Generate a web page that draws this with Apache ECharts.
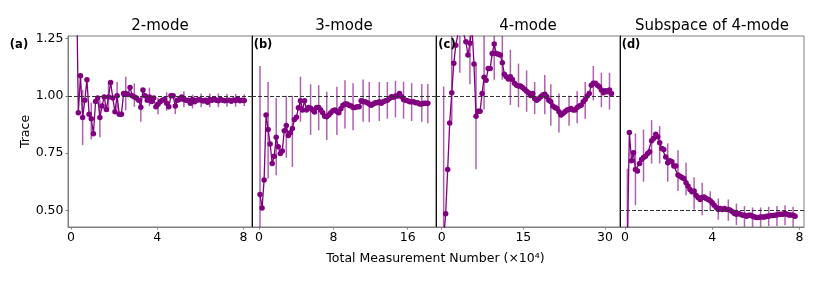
<!DOCTYPE html>
<html>
<head>
<meta charset="utf-8">
<script src="https://cdn.jsdelivr.net/npm/echarts@6/dist/echarts.min.js"></script>
<style>
html,body{margin:0;padding:0;background:#fff;}
#chart{width:824px;height:286px;}
</style>
</head>
<body>
<div id="chart"></div>
<script>
// ---------------- data ----------------
const TITLES = ['2-mode', '3-mode', '4-mode', 'Subspace of 4-mode'];
const PANEL_TAGS = ['(a)', '(b)', '(c)', '(d)'];
const Y_LABEL = 'Trace';
const X_LABEL = 'Total Measurement Number (\u00d710\u2074)';
const Y_TICKS = [0.5, 0.75, 1.0, 1.25];
const X_TICKS_A = [0, 4, 8];
const X_TICKS_B = [0, 8, 16];
const X_TICKS_C = [0, 15, 30];
const X_TICKS_D = [0, 4, 8];
const REF_LINES = [1.0, 1.0, 1.0, 0.5];

// (a) 2-mode
const A_X = [0.24,0.34,0.44,0.54,0.64,0.74,0.84,0.94,1.04,1.14,1.24,1.34,1.44,1.54,1.64,1.74,1.84,1.94,2.04,2.14,2.24,2.34,2.44,2.54,2.64,2.74,2.84,2.94,3.04,3.14,3.24,3.34,3.44,3.54,3.64,3.74,3.84,3.94,4.04,4.14,4.24,4.34,4.44,4.54,4.64,4.74,4.84,4.94,5.04,5.14,5.24,5.34,5.44,5.54,5.64,5.74,5.84,5.94,6.04,6.14,6.24,6.34,6.44,6.54,6.64,6.74,6.84,6.94,7.04,7.14,7.24,7.34,7.44,7.54,7.64,7.74,7.84,7.94,8.04];
const A_Y = [1.60,0.926,1.087,0.905,0.98,1.07,0.92,0.90,0.835,0.975,0.99,0.905,0.955,0.995,0.94,0.995,1.058,0.99,0.93,1.0,0.92,0.92,1.01,1.01,1.005,1.036,1.0,0.995,0.99,0.98,0.95,1.025,1.0,0.98,0.995,0.975,0.99,0.952,0.963,0.974,0.98,0.985,0.967,0.952,1.0,1.0,0.955,0.98,0.985,0.995,0.984,0.98,0.98,0.967,0.984,0.974,0.98,0.984,0.98,0.977,0.98,0.972,0.984,0.98,0.987,0.98,0.978,0.984,0.98,0.978,0.98,0.98,0.976,0.982,0.979,0.985,0.978,0.98,0.979];
const A_BAR_IDX = [3,7,11,15,19,23,27,30,34,38,42,46,50,54,58,62,66,70,74,78];
const A_BAR_LO = [0.785,0.81,0.82,0.93,0.94,0.937,0.952,0.887,0.955,0.92,0.935,0.92,0.95,0.945,0.95,0.95,0.95,0.952,0.952,0.955];
const A_BAR_HI = [1.025,0.97,0.98,1.06,1.06,1.083,1.054,0.996,1.035,0.99,1.015,0.99,1.02,1.005,1.01,1.01,1.01,1.008,1.008,1.005];

// (b) 3-mode
const B_X = [0.11,0.33,0.55,0.76,0.98,1.20,1.42,1.63,1.85,2.07,2.29,2.50,2.72,2.94,3.16,3.37,3.59,3.81,4.03,4.24,4.46,4.68,4.90,5.11,5.33,5.55,5.77,5.98,6.20,6.42,6.64,6.85,7.07,7.29,7.51,7.72,7.94,8.16,8.38,8.59,8.81,9.03,9.25,9.46,9.68,9.90,10.12,10.33,10.55,10.77,10.99,11.20,11.42,11.64,11.86,12.07,12.29,12.51,12.73,12.94,13.16,13.38,13.60,13.81,14.03,14.25,14.47,14.68,14.90,15.12,15.34,15.55,15.77,15.99,16.21,16.42,16.64,16.86,17.08,17.29,17.51,17.73,17.95,18.16];
const B_Y = [0.570,0.512,0.633,0.916,0.853,0.79,0.705,0.737,0.82,0.778,0.749,0.76,0.848,0.871,0.827,0.839,0.858,0.897,0.906,0.948,0.978,0.938,0.978,0.938,0.949,0.946,0.938,0.929,0.949,0.949,0.938,0.926,0.911,0.909,0.916,0.926,0.935,0.938,0.932,0.926,0.943,0.959,0.964,0.964,0.959,0.955,0.949,0.949,0.952,0.952,0.978,0.974,0.974,0.97,0.964,0.959,0.964,0.97,0.97,0.974,0.967,0.974,0.978,0.981,0.988,0.996,0.993,0.999,0.999,1.01,0.996,0.984,0.981,0.978,0.974,0.974,0.974,0.97,0.97,0.964,0.964,0.967,0.967,0.967];
const B_BAR_IDX = [0,4,8,13,16,20,25,29,33,38,42,46,51,54,59,63,67,71,75,80,83];
const B_BAR_LO = [0.01,0.64,0.654,0.73,0.69,0.887,0.83,0.85,0.807,0.829,0.858,0.85,0.887,0.885,0.89,0.90,0.906,0.90,0.89,0.887,0.88];
const B_BAR_HI = [1.13,1.06,0.99,1.0,1.0,1.083,1.05,1.046,1.017,1.039,1.068,1.054,1.071,1.06,1.06,1.06,1.065,1.061,1.055,1.051,1.051];

// (c) 4-mode
const C_X = [0.36,0.73,1.10,1.47,1.85,2.22,2.59,2.96,3.33,3.70,4.08,4.45,4.82,5.19,5.56,5.93,6.31,6.68,7.05,7.42,7.79,8.16,8.54,8.91,9.28,9.65,10.02,10.39,10.76,11.14,11.51,11.88,12.25,12.62,12.99,13.37,13.74,14.11,14.48,14.85,15.22,15.60,15.97,16.34,16.71,17.08,17.45,17.83,18.20,18.57,18.94,19.31,19.68,20.05,20.43,20.80,21.17,21.54,21.91,22.28,22.66,23.03,23.40,23.77,24.14,24.51,24.89,25.26,25.63,26.00,26.37,26.74,27.11,27.49,27.86,28.23,28.60,28.97,29.34,29.72,30.09,30.46,30.83,31.20];
const C_Y = [0.38,0.487,0.679,0.882,1.013,1.141,1.22,1.265,1.30,1.28,1.265,1.235,1.177,1.228,1.30,1.138,0.911,0.933,0.933,1.01,1.08,1.068,1.119,1.119,1.184,1.225,1.184,1.181,1.177,1.144,1.094,1.083,1.073,1.083,1.071,1.054,1.046,1.042,1.042,1.036,1.028,1.02,1.013,1.001,1.01,0.988,0.981,0.987,0.996,1.003,1.007,0.996,0.981,0.974,0.955,0.949,0.945,0.93,0.916,0.923,0.93,0.938,0.94,0.945,0.938,0.938,0.949,0.955,0.959,0.974,0.984,0.999,1.01,1.046,1.054,1.054,1.046,1.039,1.025,1.013,1.022,1.017,1.025,1.01];
const C_BAR_IDX = [0,4,8,13,16,20,25,29,33,37,41,45,50,53,57,62,66,70,74,78,82];
const C_BAR_LO = [0.10,0.89,1.10,1.05,0.68,0.94,1.07,1.07,0.96,0.95,0.93,0.92,0.92,0.87,0.84,0.87,0.88,0.90,0.98,0.95,0.94];
const C_BAR_HI = [1.04,1.30,1.50,1.40,1.14,1.27,1.38,1.30,1.20,1.14,1.11,1.06,1.09,1.05,1.01,1.00,1.02,1.06,1.13,1.10,1.10];

// (d) Subspace of 4-mode
const D_X = [0.11,0.20,0.30,0.39,0.48,0.57,0.67,0.76,0.85,0.94,1.04,1.13,1.22,1.31,1.41,1.50,1.59,1.69,1.78,1.87,1.96,2.06,2.15,2.24,2.33,2.43,2.52,2.61,2.70,2.80,2.89,2.98,3.07,3.17,3.26,3.35,3.45,3.54,3.63,3.72,3.82,3.91,4.00,4.09,4.19,4.28,4.37,4.46,4.56,4.65,4.74,4.83,4.93,5.02,5.11,5.21,5.30,5.39,5.48,5.58,5.67,5.76,5.85,5.95,6.04,6.13,6.22,6.32,6.41,6.50,6.59,6.69,6.78,6.87,6.97,7.06,7.15,7.24,7.34,7.43,7.52,7.61,7.71,7.80];
const D_Y = [0.35,0.84,0.717,0.752,0.679,0.673,0.705,0.723,0.731,0.737,0.749,0.756,0.804,0.814,0.833,0.822,0.796,0.771,0.766,0.734,0.708,0.717,0.713,0.694,0.694,0.655,0.65,0.644,0.64,0.621,0.607,0.592,0.582,0.586,0.567,0.557,0.549,0.557,0.56,0.553,0.549,0.543,0.534,0.524,0.514,0.505,0.509,0.505,0.509,0.505,0.505,0.502,0.495,0.488,0.485,0.488,0.485,0.48,0.48,0.476,0.48,0.48,0.476,0.473,0.47,0.47,0.473,0.473,0.473,0.476,0.476,0.479,0.479,0.48,0.481,0.485,0.485,0.485,0.488,0.485,0.481,0.481,0.48,0.476];
const D_BAR_IDX = [0,4,8,12,16,20,25,29,33,37,41,45,50,54,58,62,66,70,74,78,82];
const D_BAR_LO = [0.02,0.524,0.626,0.705,0.705,0.626,0.586,0.567,0.505,0.48,0.50,0.461,0.456,0.437,0.43,0.43,0.43,0.433,0.433,0.437,0.43];
const D_BAR_HI = [0.683,0.836,0.853,0.894,0.868,0.793,0.763,0.708,0.645,0.621,0.585,0.553,0.549,0.531,0.52,0.514,0.514,0.517,0.52,0.524,0.517];

// ---------------- layout / style ----------------
const FONT = '"DejaVu Sans", "Liberation Sans", sans-serif';
const PURPLE = '#800080';
const BAR_COLOR = 'rgba(128,0,128,0.62)';
const FRAME = '#7f7f7f';
const GRID_LEFTS = [68, 252, 436, 620];
const GRID_W = 184, GRID_TOP = 36, GRID_H = 191;
const X_RANGES = [[-0.139, 8.40], [-0.753, 19.04], [-1.047, 32.76], [-0.229, 8.21]];
const Y_RANGE = [0.429, 1.26];

const panels = [
  {x: A_X, y: A_Y, bi: A_BAR_IDX, lo: A_BAR_LO, hi: A_BAR_HI, ticks: X_TICKS_A},
  {x: B_X, y: B_Y, bi: B_BAR_IDX, lo: B_BAR_LO, hi: B_BAR_HI, ticks: X_TICKS_B},
  {x: C_X, y: C_Y, bi: C_BAR_IDX, lo: C_BAR_LO, hi: C_BAR_HI, ticks: X_TICKS_C},
  {x: D_X, y: D_Y, bi: D_BAR_IDX, lo: D_BAR_LO, hi: D_BAR_HI, ticks: X_TICKS_D}
];

const grids = [], xAxes = [], yAxes = [], series = [], graphics = [];

function renderErr(params, api) {
  const x = api.value(0), lo = api.value(1), hi = api.value(2);
  const p1 = api.coord([x, lo]);
  const p2 = api.coord([x, hi]);
  const cs = params.coordSys;
  const top = cs.y, bot = cs.y + cs.height;
  const c = v => Math.min(Math.max(v, top), bot);
  return {
    type: 'line',
    shape: {x1: p1[0], y1: c(p1[1]), x2: p2[0], y2: c(p2[1])},
    style: {stroke: BAR_COLOR, lineWidth: 1.5}
  };
}

panels.forEach((p, i) => {
  grids.push({
    left: GRID_LEFTS[i], top: GRID_TOP, width: GRID_W, height: GRID_H,
    show: true, borderColor: FRAME, borderWidth: 1, backgroundColor: 'transparent'
  });
  xAxes.push({
    gridIndex: i, type: 'value', min: X_RANGES[i][0], max: X_RANGES[i][1],
    axisLine: {show: true, onZero: false, lineStyle: {color: FRAME, width: 1}},
    axisTick: {show: true, inside: false, length: 2.5, lineStyle: {color: FRAME}, customValues: p.ticks},
    axisLabel: {show: true, customValues: p.ticks, fontSize: 12.5, color: '#000', margin: 4, fontFamily: FONT,
                showMinLabel: true, showMaxLabel: true},
    splitLine: {show: false}
  });
  yAxes.push({
    gridIndex: i, type: 'value', min: Y_RANGE[0], max: Y_RANGE[1],
    axisLine: {show: true, onZero: false, lineStyle: {color: i === 0 ? FRAME : '#111', width: 1}},
    axisTick: {show: i === 0, inside: false, length: 2.5, lineStyle: {color: FRAME}, customValues: Y_TICKS},
    axisLabel: {show: i === 0, customValues: Y_TICKS, fontSize: 12.5, color: '#000', margin: 4.5, fontFamily: FONT,
                formatter: v => Number(v).toFixed(2)},
    splitLine: {show: false}
  });
  series.push({
    type: 'custom', xAxisIndex: i, yAxisIndex: i, z: 2,
    renderItem: renderErr,
    encode: {x: 0, y: [1, 2]},
    data: p.bi.map((k, j) => [p.x[k], p.lo[j], p.hi[j]]),
    silent: true
  });
  series.push({
    type: 'line', xAxisIndex: i, yAxisIndex: i, z: 3,
    data: p.x.map((xv, k) => [xv, p.y[k]]),
    symbol: 'circle', symbolSize: 5.5, showSymbol: true, showAllSymbol: true,
    clip: true,
    itemStyle: {color: PURPLE},
    lineStyle: {color: PURPLE, width: 1.3},
    silent: true,
    markLine: {
      silent: true, symbol: 'none', animation: false,
      label: {show: false},
      lineStyle: {type: [4, 2], color: '#333', width: 1},
      data: [{yAxis: REF_LINES[i]}]
    }
  });
  const cx = GRID_LEFTS[i] + GRID_W / 2;
  graphics.push({
    type: 'text', x: cx, y: 26.5,
    style: {text: TITLES[i], fontSize: 15, fontFamily: FONT, fill: '#000',
            align: 'center', verticalAlign: 'middle', textAlign: 'center', textVerticalAlign: 'middle'}
  });
  const tagX = i === 0 ? 19 : GRID_LEFTS[i] + 11;
  graphics.push({
    type: 'text', x: tagX, y: 45.5, z: 10,
    style: {text: PANEL_TAGS[i], fontSize: 11.5, fontWeight: 'bold', fontFamily: FONT, fill: '#000',
            align: 'center', verticalAlign: 'middle', textAlign: 'center', textVerticalAlign: 'middle'}
  });
});

graphics.push({
  type: 'text', x: 25.5, y: 131.5, rotation: Math.PI / 2,
  style: {text: Y_LABEL, fontSize: 12.5, fontFamily: FONT, fill: '#000',
          align: 'center', verticalAlign: 'middle', textAlign: 'center', textVerticalAlign: 'middle'}
});
graphics.push({
  type: 'text', x: 435.5, y: 258.5,
  style: {text: X_LABEL, fontSize: 12.5, fontFamily: FONT, fill: '#000',
          align: 'center', verticalAlign: 'middle', textAlign: 'center', textVerticalAlign: 'middle'}
});

const chart = echarts.init(document.getElementById('chart'), null, {renderer: 'canvas'});
chart.setOption({
  animation: false,
  backgroundColor: '#fff',
  grid: grids,
  xAxis: xAxes,
  yAxis: yAxes,
  series: series,
  graphic: graphics
});
</script>
</body>
</html>
